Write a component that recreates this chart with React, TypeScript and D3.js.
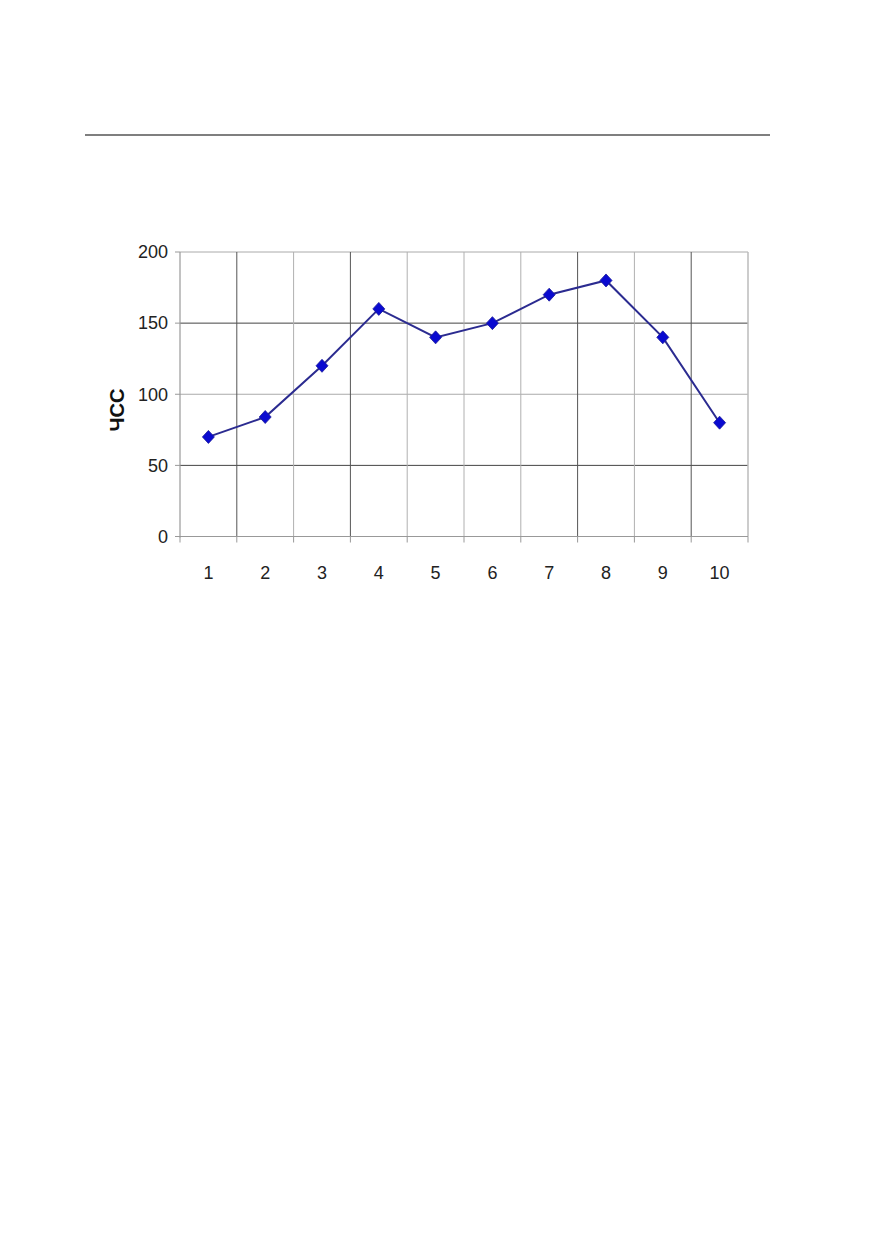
import * as d3 from "d3";
import { useEffect, useRef } from "react";

// heart rate (ЧСС) by measurement number
const categories = ["1", "2", "3", "4", "5", "6", "7", "8", "9", "10"];
const hrValues = [70, 84, 120, 160, 140, 150, 170, 180, 140, 80];
const yTicks = [0, 50, 100, 150, 200];

export default function App() {
    const ref = useRef<SVGSVGElement>(null);

    useEffect(() => {
        const svg = d3.select(ref.current);
        svg.selectAll("*").remove();

        const left = 180, right = 748, top = 252, bottom = 536.5;
        const font = "'Liberation Sans', Arial, sans-serif";

        // rule across the top of the page
        svg.append("line")
            .attr("x1", 85).attr("x2", 770)
            .attr("y1", 135).attr("y2", 135)
            .attr("stroke", "#555").attr("stroke-width", 1.6);

        const x = d3.scaleBand()
            .domain(categories)
            .range([left, right])
            .padding(0);

        const y = d3.scaleLinear()
            .domain([0, 200])
            .range([bottom, top]);

        // horizontal gridlines
        svg.append("g")
            .selectAll("line")
            .data(yTicks.filter(d => d > 0))
            .enter()
            .append("line")
            .attr("x1", left).attr("x2", right)
            .attr("y1", d => y(d)).attr("y2", d => y(d))
            .attr("stroke", d => (d === 50 || d === 150) ? "#444" : "#aaa")
            .attr("stroke-width", 1);

        // vertical gridlines between categories
        const dark = new Set(["1", "3", "7", "9"]);
        svg.append("g")
            .selectAll("line")
            .data(categories.slice(0, -1))
            .enter()
            .append("line")
            .attr("x1", d => x(d)! + x.bandwidth())
            .attr("x2", d => x(d)! + x.bandwidth())
            .attr("y1", top).attr("y2", bottom)
            .attr("stroke", d => dark.has(d) ? "#555" : "#b0b0b0")
            .attr("stroke-width", 1);

        // right border
        svg.append("line")
            .attr("x1", right).attr("x2", right)
            .attr("y1", top).attr("y2", bottom)
            .attr("stroke", "#bbb").attr("stroke-width", 1.5);

        // axes
        svg.append("line")
            .attr("x1", left).attr("x2", left)
            .attr("y1", top).attr("y2", bottom + 1)
            .attr("stroke", "#999").attr("stroke-width", 1.2);
        svg.append("line")
            .attr("x1", left).attr("x2", right)
            .attr("y1", bottom).attr("y2", bottom)
            .attr("stroke", "#999").attr("stroke-width", 1.2);

        // y ticks + labels
        svg.append("g")
            .selectAll("line")
            .data(yTicks)
            .enter()
            .append("line")
            .attr("x1", left - 5).attr("x2", left)
            .attr("y1", d => y(d)).attr("y2", d => y(d))
            .attr("stroke", "#999");
        svg.append("g")
            .selectAll("text")
            .data(yTicks)
            .enter()
            .append("text")
            .attr("x", 168)
            .attr("y", d => y(d))
            .attr("dy", "0.35em")
            .attr("text-anchor", "end")
            .attr("font-family", font)
            .attr("font-size", 18)
            .attr("fill", "#222")
            .text(d => d);

        // x ticks (at boundaries) + labels
        const bounds = [left, ...categories.map(d => x(d)! + x.bandwidth())];
        svg.append("g")
            .selectAll("line")
            .data(bounds)
            .enter()
            .append("line")
            .attr("x1", d => d).attr("x2", d => d)
            .attr("y1", bottom).attr("y2", bottom + 6)
            .attr("stroke", "#999");
        svg.append("g")
            .selectAll("text")
            .data(categories)
            .enter()
            .append("text")
            .attr("x", d => x(d)! + x.bandwidth() / 2)
            .attr("y", 579)
            .attr("text-anchor", "middle")
            .attr("font-family", font)
            .attr("font-size", 18)
            .attr("fill", "#222")
            .text(d => d);

        // y axis title
        svg.append("text")
            .attr("transform", "translate(124,410) rotate(-90)")
            .attr("text-anchor", "middle")
            .attr("font-family", font)
            .attr("font-size", 20)
            .attr("font-weight", "bold")
            .attr("fill", "#111")
            .text("ЧСС");

        const cx = (d: string) => x(d)! + x.bandwidth() / 2;
        const pts = categories.map((c, i) => [cx(c), y(hrValues[i])] as [number, number]);

        svg.append("path")
            .attr("d", d3.line()(pts))
            .attr("fill", "none")
            .attr("stroke", "#2b2b90")
            .attr("stroke-width", 2);

        svg.append("g")
            .selectAll("path")
            .data(pts)
            .enter()
            .append("path")
            .attr("transform", d => `translate(${d[0]},${d[1]})`)
            .attr("d", "M0,-6.5L6,0L0,6.5L-6,0Z")
            .attr("fill", "#0a0ad0")
            .attr("stroke", "#1a1a9a")
            .attr("stroke-width", 0.8);
    }, []);

    return (
        <svg ref={ref} width={872} height={1239}
            style={{ position: "absolute", left: 0, top: 0, background: "#fff" }} />
    );
}
